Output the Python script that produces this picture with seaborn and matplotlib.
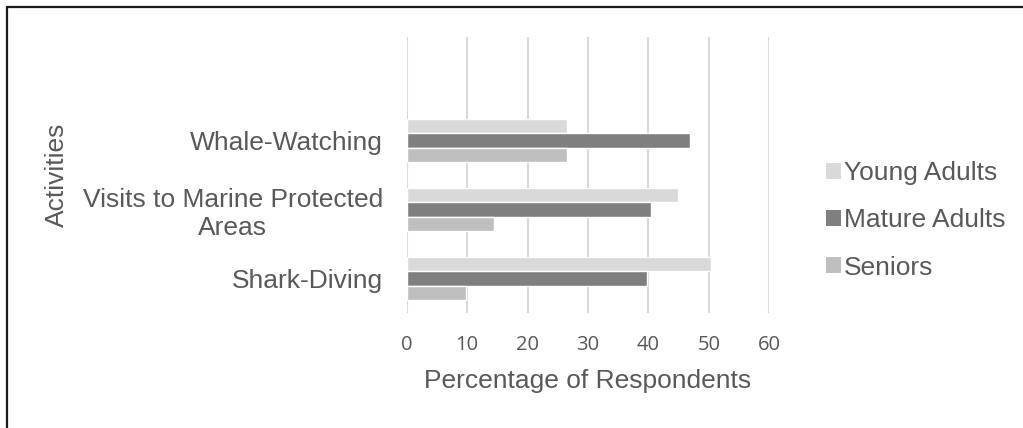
import matplotlib
matplotlib.use("Agg")
import matplotlib.pyplot as plt
from matplotlib.lines import Line2D
from matplotlib.patches import Patch
import pandas as pd
import seaborn as sns

# Survey results: share of respondents per activity and age group
activities = ["Whale-Watching", "Visits to Marine Protected\nAreas", "Shark-Diving"]
groups = ["Young Adults", "Mature Adults", "Seniors"]
young_adults = [26.6, 44.9, 50.4]
mature_adults = [46.8, 40.5, 39.8]
seniors = [26.6, 14.5, 9.8]
x_ticks = [0, 10, 20, 30, 40, 50, 60]

colors = ["#d9d9d9", "#7f7f7f", "#bfbfbf"]
text_color = "#595959"

rows = []
for grp, vals in zip(groups, [young_adults, mature_adults, seniors]):
    for act, v in zip(activities, vals):
        rows.append({"Activity": act, "Group": grp, "Value": v})
df = pd.DataFrame(rows)

sns.set_theme(style="white")
plt.rcParams["font.family"] = ["Liberation Sans", "DejaVu Sans"]

fig = plt.figure(figsize=(10.23, 4.28), dpi=100)
ax = fig.add_axes([0.3975, 0.2687, 0.3545, 0.6449])

sns.barplot(data=df, y="Activity", x="Value", hue="Group", order=activities,
            hue_order=groups, palette=colors, orient="h", width=0.61,
            saturation=1, legend=False, ax=ax, zorder=3)

ax.set_xlim(0, 60)
ax.set_ylim(2.5, -1.5)
ax.set_xticks(x_ticks)
ax.set_xticklabels([str(t) for t in x_ticks], family="Open Sans",
                   fontsize=14.5, color=text_color)
ax.set_yticks(range(len(activities)))
ax.set_yticklabels(activities, fontsize=19, color=text_color,
                   ha="right", multialignment="center")
ax.tick_params(axis="y", length=0, pad=17)
ax.tick_params(axis="x", length=0, pad=16)

ax.grid(axis="x", color="#d9d9d9", linewidth=1.5, zorder=0)
ax.grid(axis="y", visible=False)
for s in ax.spines.values():
    s.set_visible(False)

ax.set_xlabel("Percentage of Respondents", fontsize=19, color=text_color, labelpad=10)
ax.set_ylabel("Activities", fontsize=19, color=text_color)
ax.yaxis.set_label_coords(-0.93, 0.5)

handles = [Patch(facecolor=c, edgecolor="none") for c in colors]
fig.legend(handles, groups, loc="center left", bbox_to_anchor=(0.795, 0.485),
           frameon=False, fontsize=19, labelcolor=text_color,
           handlelength=0.55, handleheight=0.55, handletextpad=0.12,
           labelspacing=0.88, borderpad=0)

# Outer frame along the top and left edges
fig.add_artist(Line2D([0.0072, 1.0], [0.9825, 0.9825], transform=fig.transFigure,
                      color="#1a1a1a", linewidth=1.6))
fig.add_artist(Line2D([0.0072, 0.0072], [0.0, 0.9825], transform=fig.transFigure,
                      color="#1a1a1a", linewidth=1.6))

fig.savefig("out.png", dpi=100, facecolor="white")
